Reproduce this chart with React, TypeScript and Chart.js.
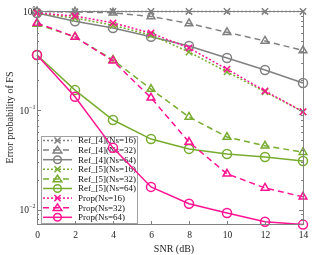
import React, { useEffect, useRef } from "react";
import { Chart, registerables } from "chart.js";

Chart.register(...registerables);

const snr = [0, 2, 4, 6, 8, 10, 12, 14];
const ref4Ns16 = [0.98, 0.985, 0.99, 0.99, 0.99, 0.99, 0.99, 0.99];
const ref4Ns32 = [0.99, 0.98, 0.96, 0.88, 0.75, 0.61, 0.5, 0.4];
const ref4Ns64 = [0.955, 0.79, 0.675, 0.55, 0.445, 0.337, 0.255, 0.189];
const ref5Ns16 = [0.955, 0.85, 0.72, 0.574, 0.387, 0.244, 0.154, 0.097];
const ref5Ns32 = [0.74, 0.548, 0.322, 0.164, 0.086, 0.054, 0.044, 0.038];
const ref5Ns64 = [0.361, 0.16, 0.08, 0.0515, 0.041, 0.0365, 0.034, 0.031];
const propNs16 = [0.955, 0.89, 0.76, 0.6, 0.425, 0.26, 0.157, 0.097];
const propNs32 = [0.757, 0.548, 0.315, 0.134, 0.048, 0.023, 0.0166, 0.0135];
const propNs64 = [0.361, 0.137, 0.042, 0.017, 0.0115, 0.0093, 0.0076, 0.0071];

const xTicks = [0, 2, 4, 6, 8, 10, 12, 14];
const yDecades = [0, -1, -2];
const xTitle = "SNR (dB)";
const yTitle = "Error probability of FS";

const GRAY = "#808080";
const GREEN = "#77AC30";
const PINK = "#FF1493";
const DOTTED = [2, 2];
const DASHED = [6, 4];

type Series = { label: string; values: number[]; color: string; dash: number[]; marker: string; order: number };

const seriesList: Series[] = [
  { label: "Ref_[4](Ns=16)", values: ref4Ns16, color: GRAY, dash: DOTTED, marker: "crossRot", order: 2 },
  { label: "Ref_[4](Ns=32)", values: ref4Ns32, color: GRAY, dash: DASHED, marker: "triangle", order: 2 },
  { label: "Ref_[4](Ns=64)", values: ref4Ns64, color: GRAY, dash: [], marker: "circle", order: 2 },
  { label: "Ref_[5](Ns=16)", values: ref5Ns16, color: GREEN, dash: DOTTED, marker: "crossRot", order: 1 },
  { label: "Ref_[5](Ns=32)", values: ref5Ns32, color: GREEN, dash: DASHED, marker: "triangle", order: 1 },
  { label: "Ref_[5](Ns=64)", values: ref5Ns64, color: GREEN, dash: [], marker: "circle", order: 1 },
  { label: "Prop(Ns=16)", values: propNs16, color: PINK, dash: DOTTED, marker: "crossRot", order: 0 },
  { label: "Prop(Ns=32)", values: propNs32, color: PINK, dash: DASHED, marker: "triangle", order: 0 },
  { label: "Prop(Ns=64)", values: propNs64, color: PINK, dash: [], marker: "circle", order: 0 },
];

function drawMarker(ctx: CanvasRenderingContext2D, kind: string, x: number, y: number, r: number) {
  ctx.beginPath();
  if (kind === "circle") {
    ctx.arc(x, y, r, 0, Math.PI * 2);
  } else if (kind === "triangle") {
    const h = r * 1.5;
    ctx.moveTo(x, y - h * 0.66);
    ctx.lineTo(x + r * 1.15, y + h * 0.5);
    ctx.lineTo(x - r * 1.15, y + h * 0.5);
    ctx.closePath();
  } else {
    const d = r * 0.8;
    ctx.moveTo(x - d, y - d);
    ctx.lineTo(x + d, y + d);
    ctx.moveTo(x + d, y - d);
    ctx.lineTo(x - d, y + d);
  }
  ctx.stroke();
}

const FONT = "'Liberation Serif', 'Times New Roman', serif";

const decorPlugin = {
  id: "decor",
  beforeDatasetsDraw(chart: any) {
    const ctx: CanvasRenderingContext2D = chart.ctx;
    const bx = 41, by = 136, bw = 96, bh = 87;
    ctx.save();
    ctx.fillStyle = "#ffffff";
    ctx.fillRect(bx, by, bw, bh);
    ctx.strokeStyle = "#a0a0a0";
    ctx.lineWidth = 1;
    ctx.strokeRect(bx + 0.5, by + 0.5, bw, bh);
    ctx.font = `9px ${FONT}`;
    ctx.textBaseline = "middle";
    ctx.textAlign = "left";
    seriesList.forEach((s, i) => {
      const y = 140.5 + i * 9.6;
      ctx.strokeStyle = s.color;
      ctx.lineWidth = 1.5;
      ctx.setLineDash(s.dash);
      ctx.beginPath();
      ctx.moveTo(43, y);
      ctx.lineTo(72, y);
      ctx.stroke();
      ctx.setLineDash([]);
      drawMarker(ctx, s.marker, 57.5, y, 3.8);
      ctx.fillStyle = "#111111";
      ctx.fillText(s.label, 78, y + 0.5);
    });
    ctx.restore();
  },
  afterDraw(chart: any) {
    const ctx: CanvasRenderingContext2D = chart.ctx;
    const { left, right, top, bottom } = chart.chartArea;
    const xs = chart.scales.x;
    const ys = chart.scales.y;
    ctx.save();
    ctx.strokeStyle = GRAY;
    ctx.lineWidth = 1;
    ctx.setLineDash([]);
    ctx.strokeRect(Math.round(left) + 0.5, Math.round(top) + 0.5, Math.round(right - left), Math.round(bottom - top));
    ctx.fillStyle = "#222222";
    ctx.font = `9.5px ${FONT}`;
    ctx.textAlign = "center";
    ctx.textBaseline = "middle";
    xTicks.forEach((t) => {
      const px = Math.round(xs.getPixelForValue(t)) + 0.5;
      ctx.beginPath();
      ctx.moveTo(px, bottom);
      ctx.lineTo(px, bottom - 3);
      ctx.moveTo(px, top);
      ctx.lineTo(px, top + 3);
      ctx.stroke();
      ctx.fillText(String(t), px, bottom + 11);
    });
    const minV = ys.min, maxV = ys.max;
    for (let e = -3; e <= 0; e++) {
      for (let m = 1; m <= 9; m++) {
        const v = m * Math.pow(10, e);
        if (v < minV * 0.999 || v > maxV * 1.001) continue;
        const py = Math.round(ys.getPixelForValue(v)) + 0.5;
        const len = m === 1 ? 4 : 2;
        ctx.beginPath();
        ctx.moveTo(left, py);
        ctx.lineTo(left + len, py);
        ctx.moveTo(right, py);
        ctx.lineTo(right - len, py);
        ctx.stroke();
      }
    }
    yDecades.forEach((e) => {
      const py = ys.getPixelForValue(Math.pow(10, e));
      const sup = e === 0 ? "0" : "\u2212" + String(-e);
      ctx.font = `6px ${FONT}`;
      const sw = ctx.measureText(sup).width;
      ctx.textAlign = "right";
      ctx.fillText(sup, 35.5, py - 3);
      ctx.font = `9.5px ${FONT}`;
      ctx.fillText("10", 35.5 - sw, py + 1);
    });
    ctx.font = `10px ${FONT}`;
    ctx.textAlign = "center";
    ctx.fillText(xTitle, (left + right) / 2 + 4, 249);
    ctx.save();
    ctx.translate(10, (top + bottom) / 2);
    ctx.rotate(-Math.PI / 2);
    ctx.fillText(yTitle, 0, 0);
    ctx.restore();
    ctx.restore();
  },
};

export default function App() {
  const ref = useRef<HTMLCanvasElement | null>(null);
  useEffect(() => {
    if (!ref.current) return;
    const chart = new Chart(ref.current, {
      type: "line",
      data: {
        datasets: seriesList.map((s) => ({
          label: s.label,
          data: snr.map((x, i) => ({ x, y: s.values[i] })),
          borderColor: s.color,
          backgroundColor: "rgba(0,0,0,0)",
          borderWidth: 1.5,
          borderDash: s.dash,
          pointStyle: s.marker as any,
          pointRadius: 4.5,
          pointBorderWidth: 1.5,
          pointBorderColor: s.color,
          pointBackgroundColor: "rgba(0,0,0,0)",
          tension: 0,
          clip: false as any,
          order: s.order,
        })),
      },
      options: {
        animation: false,
        responsive: false,
        devicePixelRatio: 1,
        layout: { padding: { left: 37, right: 17, top: 11, bottom: 31 } },
        plugins: { legend: { display: false }, tooltip: { enabled: false } },
        events: [],
        scales: {
          x: { type: "linear", min: 0, max: 14, display: false },
          y: { type: "logarithmic", min: 0.0072, max: 1, display: false },
        },
      },
      plugins: [decorPlugin],
    });
    return () => chart.destroy();
  }, []);
  return (
    <div style={{ position: "fixed", left: 0, top: 0, width: 320, height: 255, background: "#fff" }}>
      <canvas ref={ref} width={320} height={255} style={{ width: 320, height: 255 }} />
    </div>
  );
}
